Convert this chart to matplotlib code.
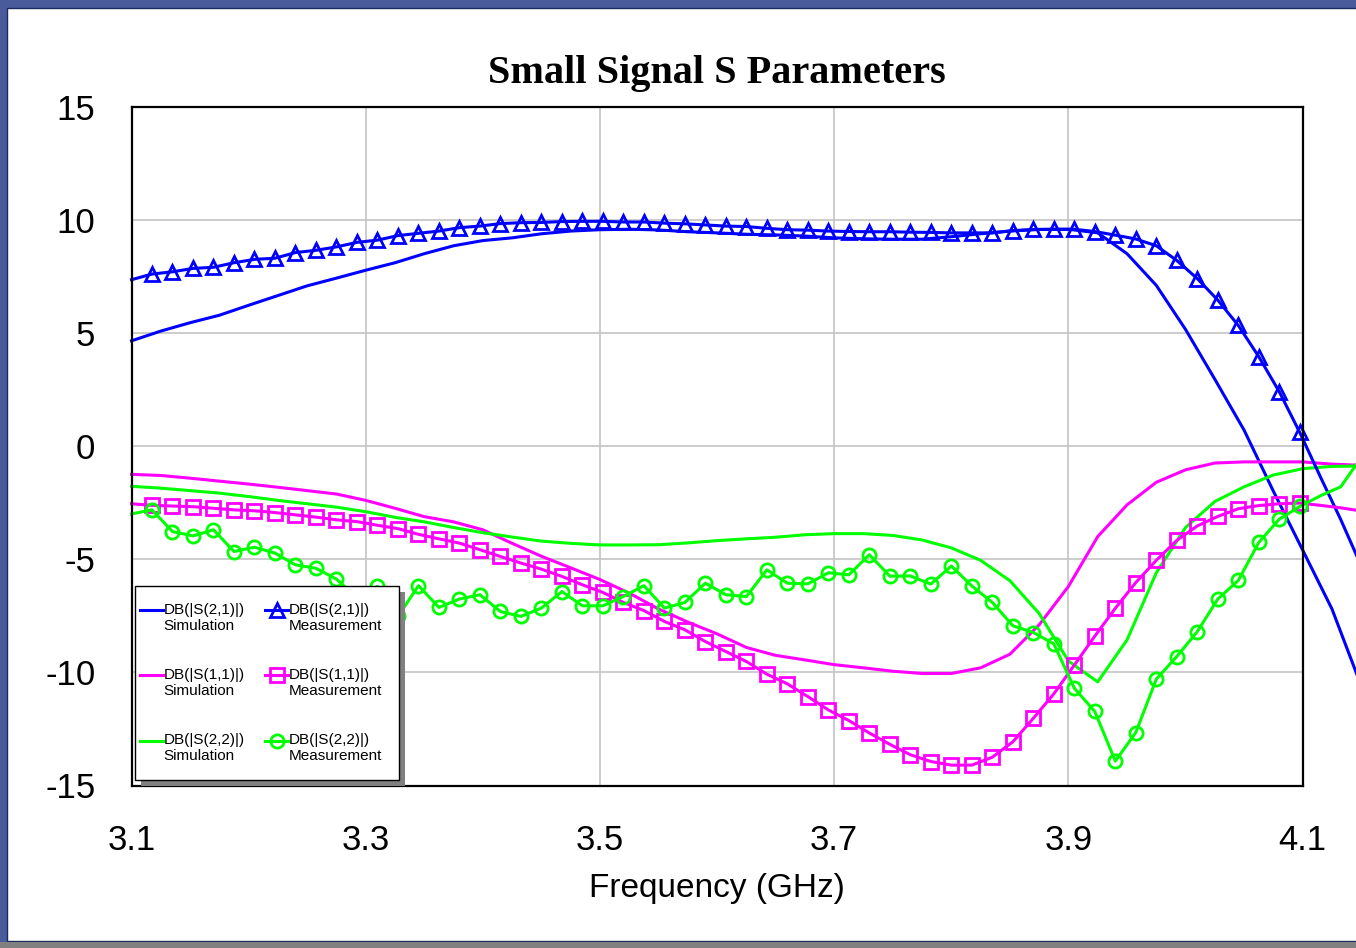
import matplotlib
matplotlib.use("Agg")
import matplotlib.pyplot as plt
import matplotlib.patheffects as pe
from matplotlib.legend_handler import HandlerLine2D
from matplotlib.lines import Line2D
from matplotlib.patches import Rectangle

# frequency sweeps (GHz)
freq_sim = [3.1, 3.125, 3.15, 3.175, 3.2, 3.225, 3.25, 3.275, 3.3, 3.325, 3.35,
            3.375, 3.4, 3.425, 3.45, 3.475, 3.5, 3.525, 3.55, 3.575, 3.6, 3.625,
            3.65, 3.675, 3.7, 3.725, 3.75, 3.775, 3.8, 3.825, 3.85, 3.875, 3.9,
            3.925, 3.95, 3.975, 4.0, 4.025, 4.05, 4.075, 4.1, 4.125, 4.15]
freq_meas = [3.1, 3.1175, 3.135, 3.1525, 3.17, 3.1875, 3.205, 3.2225, 3.24, 3.2575,
             3.275, 3.2925, 3.31, 3.3275, 3.345, 3.3625, 3.38, 3.3975, 3.415, 3.4325,
             3.45, 3.4675, 3.485, 3.5025, 3.52, 3.5375, 3.555, 3.5725, 3.59, 3.6075,
             3.625, 3.6425, 3.66, 3.6775, 3.695, 3.7125, 3.73, 3.7475, 3.765, 3.7825,
             3.8, 3.8175, 3.835, 3.8525, 3.87, 3.8875, 3.905, 3.9225, 3.94, 3.9575,
             3.975, 3.9925, 4.01, 4.0275, 4.045, 4.0625, 4.08, 4.0975, 4.115, 4.1325,
             4.15]

# simulated (dB)
s21_sim = [4.65, 5.08, 5.45, 5.78, 6.22, 6.65, 7.08, 7.42, 7.77, 8.1, 8.5,
           8.85, 9.08, 9.2, 9.38, 9.5, 9.56, 9.58, 9.55, 9.47, 9.42, 9.36,
           9.33, 9.28, 9.2, 9.16, 9.14, 9.14, 9.25, 9.38, 9.5, 9.57, 9.58,
           9.42, 8.5, 7.1, 5.15, 2.95, 0.7, -2.0, -4.6, -7.2, -10.6]
s11_sim = [-1.25, -1.3, -1.42, -1.55, -1.68, -1.82, -1.97, -2.12, -2.4, -2.75, -3.12,
           -3.35, -3.7, -4.3, -4.87, -5.38, -5.9, -6.5, -7.2, -7.78, -8.3, -8.9,
           -9.25, -9.45, -9.66, -9.8, -9.95, -10.05, -10.05, -9.8, -9.2, -7.9, -6.2,
           -4.0, -2.6, -1.6, -1.05, -0.75, -0.7, -0.7, -0.7, -0.8, -0.85]
s22_sim = [-1.78, -1.86, -1.97, -2.08, -2.23, -2.4, -2.55, -2.7, -2.9, -3.15, -3.35,
           -3.6, -3.83, -4.02, -4.2, -4.3, -4.37, -4.37, -4.36, -4.28, -4.18, -4.1,
           -4.03, -3.92, -3.87, -3.87, -3.95, -4.15, -4.5, -5.05, -5.95, -7.4, -9.5,
           -10.42, -8.57, -5.6, -3.6, -2.45, -1.8, -1.28, -1.0, -0.9, -0.88]

# measured (dB)
s21_meas = [7.35, 7.6, 7.7, 7.85, 7.9, 8.1, 8.25, 8.3, 8.55, 8.65,
            8.8, 9.0, 9.1, 9.3, 9.4, 9.5, 9.65, 9.72, 9.83, 9.87,
            9.88, 9.92, 9.93, 9.93, 9.9, 9.9, 9.85, 9.82, 9.77, 9.72,
            9.7, 9.62, 9.56, 9.54, 9.5, 9.48, 9.47, 9.47, 9.45, 9.44,
            9.42, 9.42, 9.42, 9.52, 9.57, 9.58, 9.58, 9.48, 9.32, 9.15,
            8.85, 8.2, 7.4, 6.45, 5.33, 3.95, 2.4, 0.6, -1.35, -3.25,
            -5.3]
s11_meas = [-2.55, -2.62, -2.65, -2.68, -2.75, -2.82, -2.86, -2.94, -3.04, -3.14,
            -3.26, -3.34, -3.5, -3.65, -3.9, -4.1, -4.29, -4.58, -4.88, -5.17,
            -5.44, -5.76, -6.13, -6.47, -6.91, -7.27, -7.75, -8.12, -8.64, -9.08,
            -9.52, -10.08, -10.51, -11.07, -11.66, -12.13, -12.68, -13.18, -13.64, -13.94,
            -14.1, -14.1, -13.75, -13.07, -12.03, -10.95, -9.68, -8.4, -7.17, -6.03,
            -5.05, -4.17, -3.53, -3.11, -2.77, -2.63, -2.55, -2.52, -2.62, -2.73,
            -2.87]
s22_meas = [-3.0, -2.82, -3.78, -3.97, -3.7, -4.66, -4.47, -4.73, -5.25, -5.4,
            -5.88, -6.7, -6.2, -7.53, -6.17, -7.13, -6.76, -6.57, -7.31, -7.53,
            -7.16, -6.43, -7.06, -7.06, -6.65, -6.17, -7.16, -6.91, -6.06, -6.57,
            -6.65, -5.47, -6.06, -6.09, -5.6, -5.69, -4.8, -5.75, -5.74, -6.1,
            -5.3, -6.18, -6.91, -7.94, -8.24, -8.74, -10.7, -11.73, -13.92, -12.66,
            -10.3, -9.3, -8.2, -6.76, -5.94, -4.26, -3.23, -2.67, -2.2, -1.8,
            -0.5]

x_ticks = [3.1, 3.3, 3.5, 3.7, 3.9, 4.1]
y_ticks = [-15, -10, -5, 0, 5, 10, 15]

BLUE, MAGENTA, GREEN = "#0000ff", "#ff00ff", "#00ff00"

fig = plt.figure(figsize=(13.56, 9.48), dpi=100, facecolor="#4a5b9b")
# white slide panel and grey strip at the bottom
fig.patches.append(Rectangle((7 / 1356, 7 / 948), 1.0, 933 / 948, transform=fig.transFigure,
                             facecolor="white", edgecolor="#1c2a5c", lw=1.0, zorder=-2))
fig.patches.append(Rectangle((0, 0), 1.0, 6 / 948, transform=fig.transFigure,
                             facecolor="#808080", edgecolor="none", zorder=-2))

ax = fig.add_axes([131.5 / 1356, 1 - 785.5 / 948, 1171.2 / 1356, 678.9 / 948])
ax.set_facecolor("none")

lw = 2.2
marks = slice(1, 58)
sim_kw = dict(lw=lw, clip_on=False, zorder=3)
meas_kw = dict(lw=lw, clip_on=False, zorder=4, markevery=marks,
               markerfacecolor="none", markeredgewidth=2.0)

ax.plot(freq_sim, s21_sim, color=BLUE, label="DB(|S(2,1)|)\nSimulation", **sim_kw)
ax.plot(freq_meas, s21_meas, color=BLUE, marker="^", ms=10.5,
        label="DB(|S(2,1)|)\nMeasurement", **meas_kw)
ax.plot(freq_sim, s11_sim, color=MAGENTA, label="DB(|S(1,1)|)\nSimulation", **sim_kw)
ax.plot(freq_meas, s11_meas, color=MAGENTA, marker="s", ms=9.5,
        label="DB(|S(1,1)|)\nMeasurement", **meas_kw)
ax.plot(freq_sim, s22_sim, color=GREEN, label="DB(|S(2,2)|)\nSimulation", **sim_kw)
ax.plot(freq_meas, s22_meas, color=GREEN, marker="o", ms=9.5,
        label="DB(|S(2,2)|)\nMeasurement", **meas_kw)

ax.set_xlim(3.1, 4.1)
ax.set_ylim(-15, 15)
ax.set_xticks(x_ticks)
ax.set_xticklabels([f"{v:.1f}" for v in x_ticks])
ax.set_yticks(y_ticks)
ax.set_yticklabels([str(v) for v in y_ticks])
ax.tick_params(length=0, labelsize=25)
ax.tick_params(axis="y", pad=26)
ax.tick_params(axis="x", pad=28)
for lab in ax.get_xticklabels() + ax.get_yticklabels():
    lab.set_fontfamily("Liberation Sans")
ax.grid(True, color="#c4c4c4", lw=1.2)
ax.set_axisbelow(True)
for sp in ax.spines.values():
    sp.set_linewidth(1.6)
    sp.set_color("black")
    sp.set_zorder(5)

ax.set_xlabel("Frequency (GHz)", fontsize=24, fontfamily="Liberation Sans", labelpad=11)
ax.set_title("Small Signal S Parameters", fontsize=29, fontweight="bold",
             fontfamily="Liberation Serif", pad=17)

LEG_FS = 11


class TopHandler(HandlerLine2D):
    # handle level with the first line of a two-line label, drawn a bit longer to the left
    def create_artists(self, legend, orig_handle, xdescent, ydescent, width, height,
                       fontsize, trans):
        ext = 0.77 * fontsize
        return super().create_artists(legend, orig_handle, xdescent + ext,
                                      ydescent - 1.0 * fontsize, width + ext, height,
                                      fontsize, trans)


handles, labels = ax.get_legend_handles_labels()
order = [0, 2, 4, 1, 3, 5]
leg = ax.legend([handles[i] for i in order], [labels[i] for i in order], ncol=2,
                loc="lower left", bbox_to_anchor=(0.003, 0.008), borderaxespad=0,
                prop={"family": "Liberation Sans", "size": LEG_FS},
                handlelength=0.73, handletextpad=0.05, columnspacing=2.1,
                labelspacing=2.29, borderpad=1.1, fancybox=False, framealpha=1,
                edgecolor="black", markerscale=1.0,
                handler_map={Line2D: TopHandler()})
leg.get_frame().set_linewidth(1.0)
leg.get_frame().set_path_effects([pe.SimplePatchShadow(offset=(4.5, -4.5),
                                                       shadow_rgbFace="#808080", alpha=1.0),
                                  pe.Normal()])
leg.set_zorder(10)

fig.savefig("out.png", dpi=100, facecolor=fig.get_facecolor())
